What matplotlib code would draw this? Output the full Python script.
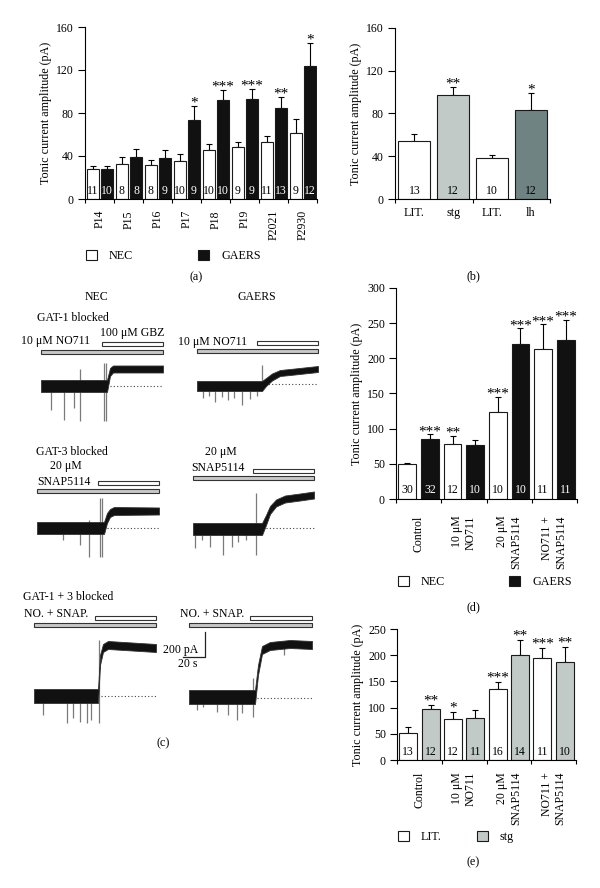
import numpy as np
import matplotlib
matplotlib.use("Agg")
import matplotlib.pyplot as plt
from matplotlib.patches import Patch, Rectangle

plt.rcParams['font.family'] = ['Liberation Serif', 'DejaVu Serif']
plt.rcParams['font.size'] = 8.5
plt.rcParams['axes.linewidth'] = 0.8

W, H = 600, 888

# ---- (a) development NEC vs GAERS
ages = ['P14', 'P15', 'P16', 'P17', 'P18', 'P19', 'P2021', 'P2930']
a_nec = [27.8, 32.7, 31.8, 34.9, 45.4, 48.2, 53.4, 61.8]
a_nec_top = [31, 38.9, 36.4, 41.7, 51, 52.8, 58.7, 74.1]
a_nec_n = [11, 8, 8, 10, 10, 9, 11, 9]
a_gaers = [27.8, 38.9, 38.3, 73.5, 92, 93, 84.3, 124]
a_gaers_top = [31, 46.3, 45.4, 86.5, 101.3, 102, 94.5, 145]
a_gaers_n = [10, 8, 9, 9, 10, 9, 13, 12]
a_stars = ['', '', '', '*', '***', '***', '**', '*']

# ---- (b) LIT. vs stg / lh
b_labels = ['LIT.', 'stg', 'LIT.', 'lh']
b_vals = [54, 97, 38.4, 83]
b_top = [61, 104.8, 41.2, 99.2]
b_n = [13, 12, 10, 12]
b_stars = ['', '**', '', '*']

# ---- (d) blockers NEC vs GAERS
drugs = ['Control', '10 μM\nNO711', '20 μM\nSNAP5114', 'NO711 +\nSNAP5114']
d_nec = [49.4, 78.8, 124.3, 213]
d_nec_top = [50.8, 90.2, 145.7, 249]
d_nec_n = [30, 12, 10, 11]
d_nec_stars = ['', '**', '***', '***']
d_gaers = [85.4, 76.4, 221, 225.4]
d_gaers_top = [92, 84, 242.5, 255]
d_gaers_n = [32, 10, 10, 11]
d_gaers_stars = ['***', '', '***', '***']

# ---- (e) blockers LIT. vs stg
e_lit = [52.2, 78.9, 134.9, 195.3]
e_lit_top = [62.3, 91, 148.2, 214.4]
e_lit_n = [13, 12, 16, 11]
e_lit_stars = ['', '*', '***', '***']
e_stg = [96.7, 79.5, 199.7, 186.4]
e_stg_top = [104.3, 95.4, 229, 215.6]
e_stg_n = [12, 11, 14, 10]
e_stg_stars = ['**', '', '**', '**']

# ---- (c) example traces (figure pixels, y downwards)
trace_x = [
    [41, 107, 110, 113, 163],
    [197, 262, 266, 272, 280, 290, 318],
    [37, 104, 107, 110, 114, 159],
    [193, 262, 266, 270, 276, 285, 300, 314],
    [34, 98, 100, 103, 108, 156],
    [189, 255, 258, 262, 270, 290, 312],
]
trace_mid = [
    [386, 386, 372, 369, 369],
    [386, 386, 382, 377, 373, 372, 369],
    [528, 528, 518, 513, 511, 511],
    [529, 529, 520, 510, 503, 499, 497, 495],
    [696, 696, 660, 648, 645, 648],
    [697, 697, 670, 650, 646, 644, 645],
]
trace_half = [
    [6, 6, 4, 3.5, 3.5],
    [5, 5, 4, 3.5, 3, 3, 3],
    [6, 6, 5, 4, 4, 3.5],
    [6, 6, 5, 4, 3.5, 3.5, 3.5, 3.5],
    [7, 7, 5, 4, 4, 4],
    [7, 7, 5, 4, 4, 4, 4],
]
spike_x = [
    [51, 64, 74, 80, 104, 106],
    [203, 209, 215, 222, 228, 234, 242, 250, 257, 262],
    [63, 80, 89, 100, 102],
    [195, 202, 210, 223, 232, 238, 246, 256],
    [43, 67, 73, 80, 87, 91, 99],
    [197, 203, 217, 228, 237, 242, 253, 284],
]
spike_top = [
    [386, 386, 386, 369, 363, 363],
    [386, 386, 386, 386, 386, 386, 386, 386, 386, 365],
    [528, 528, 520, 498, 498],
    [529, 529, 529, 529, 529, 529, 529, 493],
    [696, 696, 696, 696, 696, 696, 640],
    [697, 697, 697, 697, 697, 697, 678, 645],
]
spike_bot = [
    [410, 420, 408, 421, 421, 421],
    [398, 396, 402, 397, 400, 398, 405, 399, 396, 384],
    [540, 545, 557, 557, 557],
    [548, 540, 547, 555, 547, 542, 540, 555],
    [715, 723, 718, 722, 723, 720, 723],
    [710, 707, 712, 715, 720, 713, 717, 655],
]
dot_x0 = [110, 265, 107, 266, 101, 257]
dot_x1 = [162, 318, 159, 314, 156, 312]
dot_y = [386, 384, 528, 528, 696, 698]
bar_end = [163, 318, 159, 314, 156, 312]
white_x0 = [102, 257, 98, 253, 95, 250]
white_y = [344, 343, 483, 471, 618, 618]
grey_x0 = [41, 197, 37, 193, 34, 189]
grey_y = [352, 351, 491, 478, 625, 625]

STG = '#c2cac8'
LH = '#6f8382'
EDGE = '#1a1a1a'

fig = plt.figure(figsize=(6, 8.88), dpi=100)


def px_axes(l, t, r, b):
    return fig.add_axes([l / W, 1 - b / H, (r - l) / W, (b - t) / H])


def style(ax, ymax, ystep):
    ax.spines['top'].set_visible(False)
    ax.spines['right'].set_visible(False)
    ax.set_ylim(0, ymax)
    ax.set_yticks(np.arange(0, ymax + 1, ystep))
    ax.tick_params(axis='y', direction='out', length=5, width=0.8, pad=3, labelsize=8.5)
    ax.tick_params(axis='x', which='major', direction='out', length=3, width=0.8)
    ax.set_ylabel('Tonic current amplitude (pA)', fontsize=8.7, labelpad=3)
    ax.set_facecolor('none')


def bars(ax, pos, vals, tops, ns, stars, fc, tc, w, ymax):
    vals = np.array(vals)
    tops = np.array(tops)
    ax.bar(pos, vals, w, color=fc, edgecolor=EDGE, linewidth=0.8, zorder=2)
    ax.errorbar(pos, vals, yerr=[np.zeros(len(vals)), tops - vals], fmt='none',
                ecolor='k', elinewidth=0.8, capsize=2, capthick=0.8, zorder=1)
    for p, t, n, s in zip(pos, tops, ns, stars):
        ax.text(p, ymax * 0.012, str(n), ha='center', va='bottom', color=tc, fontsize=8.5, zorder=3)
        if s:
            ax.text(p, t - ymax * 0.02, s, ha='center', va='bottom', fontsize=11, clip_on=False)


def group_ticks(ax, ng, labels, pad, rot):
    ax.set_xlim(0, 2 * ng)
    ax.set_xticks(np.arange(0, 2 * ng + 1, 2))
    ax.set_xticklabels([])
    ax.set_xticks(np.arange(1, 2 * ng, 2), minor=True)
    ax.set_xticklabels(labels, minor=True, rotation=rot, va='top', ha='center')
    ax.tick_params(axis='x', which='minor', length=0, pad=pad, labelsize=8.5)
    for t in ax.get_xticklabels(minor=True):
        t.set_multialignment('right')


def legend(labels, colors, x, y, spacing):
    handles = [Patch(facecolor=c, edgecolor=EDGE, linewidth=0.8) for c in colors]
    fig.legend(handles, labels, loc='center left', bbox_to_anchor=(x / W, 1 - y / H),
               ncol=2, frameon=False, handlelength=0.9, handleheight=0.9,
               handletextpad=1.0, columnspacing=spacing, borderpad=0,
               borderaxespad=0, fontsize=8.7)


# (a)
ax = px_axes(85, 27, 317, 199)
style(ax, 160, 40)
g = np.arange(len(ages)) * 2
bars(ax, g + 0.55, a_nec, a_nec_top, a_nec_n, [''] * len(ages), 'white', 'black', 0.87, 160)
bars(ax, g + 1.52, a_gaers, a_gaers_top, a_gaers_n, a_stars, '#111111', 'white', 0.87, 160)
group_ticks(ax, len(ages), ages, 8, 90)
legend(['NEC', 'GAERS'], ['white', '#111111'], 86, 256, 5.4)

# (b)
ax = px_axes(395, 28, 550, 199)
style(ax, 160, 40)
bars(ax, np.arange(4) + 0.5, b_vals, b_top, b_n, b_stars, ['white', STG, 'white', LH], 'black', 0.83, 160)
ax.set_xlim(0, 4)
ax.set_xticks([0, 2, 4])
ax.set_xticklabels([])
ax.set_xticks(np.arange(4) + 0.5, minor=True)
ax.set_xticklabels(b_labels, minor=True)
ax.tick_params(axis='x', which='minor', length=0, pad=6, labelsize=8.7)

# (d)
ax = px_axes(396, 288, 577, 499)
style(ax, 300, 50)
g = np.arange(4) * 2
bars(ax, g + 0.5, d_nec, d_nec_top, d_nec_n, d_nec_stars, 'white', 'black', 0.78, 300)
bars(ax, g + 1.5, d_gaers, d_gaers_top, d_gaers_n, d_gaers_stars, '#111111', 'white', 0.78, 300)
group_ticks(ax, 4, drugs, 12, 90)
legend(['NEC', 'GAERS'], ['white', '#111111'], 398, 582, 5.3)

# (e)
ax = px_axes(397, 629, 576, 760)
style(ax, 250, 50)
bars(ax, g + 0.5, e_lit, e_lit_top, e_lit_n, e_lit_stars, 'white', 'black', 0.8, 250)
bars(ax, g + 1.5, e_stg, e_stg_top, e_stg_n, e_stg_stars, STG, 'black', 0.8, 250)
group_ticks(ax, 4, drugs, 8.5, 90)
legend(['LIT.', 'stg'], ['white', STG], 398, 837, 2.9)

# (c) traces drawn in figure pixel coordinates
axc = fig.add_axes([0, 0, 1, 1], zorder=-1)
axc.set_xlim(0, W)
axc.set_ylim(H, 0)
axc.axis('off')
for i in range(len(trace_x)):
    x = np.array(trace_x[i])
    m = np.array(trace_mid[i])
    h = np.array(trace_half[i])
    axc.vlines(spike_x[i], spike_top[i], spike_bot[i], color='#7a7a7a', lw=0.9, zorder=2)
    axc.fill_between(x, m - h, m + h, color='#111111', lw=0.6, edgecolor='#333333', zorder=3)
    axc.plot([dot_x0[i], dot_x1[i]], [dot_y[i], dot_y[i]], ls=(0, (1, 2)), color='#444444', lw=0.8)
    axc.add_patch(Rectangle((white_x0[i], white_y[i] - 1.8), bar_end[i] - white_x0[i], 3.6,
                            facecolor='white', edgecolor='#333333', lw=0.8))
    axc.add_patch(Rectangle((grey_x0[i], grey_y[i] - 1.8), bar_end[i] - grey_x0[i], 3.6,
                            facecolor='#c8c8c8', edgecolor='#333333', lw=0.8))

tx = dict(fontsize=8.5, va='center')
axc.text(96, 297, 'NEC', ha='center', **tx)
axc.text(257, 297, 'GAERS', ha='center', **tx)
axc.text(37, 318, 'GAT-1 blocked', **tx)
axc.text(21, 341, '10 μM NO711', **tx)
axc.text(100, 333, '100 μM GBZ', **tx)
axc.text(178, 342, '10 μM NO711', **tx)
axc.text(36, 452, 'GAT-3 blocked', **tx)
axc.text(50, 466, '20 μM', **tx)
axc.text(37, 482, 'SNAP5114', **tx)
axc.text(205, 452, '20 μM', **tx)
axc.text(191, 468, 'SNAP5114', **tx)
axc.text(23, 597, 'GAT-1 + 3 blocked', **tx)
axc.text(24, 614, 'NO. + SNAP.', **tx)
axc.text(180, 614, 'NO. + SNAP.', **tx)
axc.plot([183, 205, 205], [657, 657, 632], color='#222222', lw=0.9)
axc.text(163, 650, '200 pA', **tx)
axc.text(178, 664, '20 s', **tx)

for lab, x, y in [('(a)', 196, 277), ('(b)', 473, 276), ('(c)', 163, 743),
                  ('(d)', 473, 607), ('(e)', 473, 862)]:
    axc.text(x, y, lab, ha='center', va='center', fontsize=8.7)

fig.savefig('out.png', dpi=100)
